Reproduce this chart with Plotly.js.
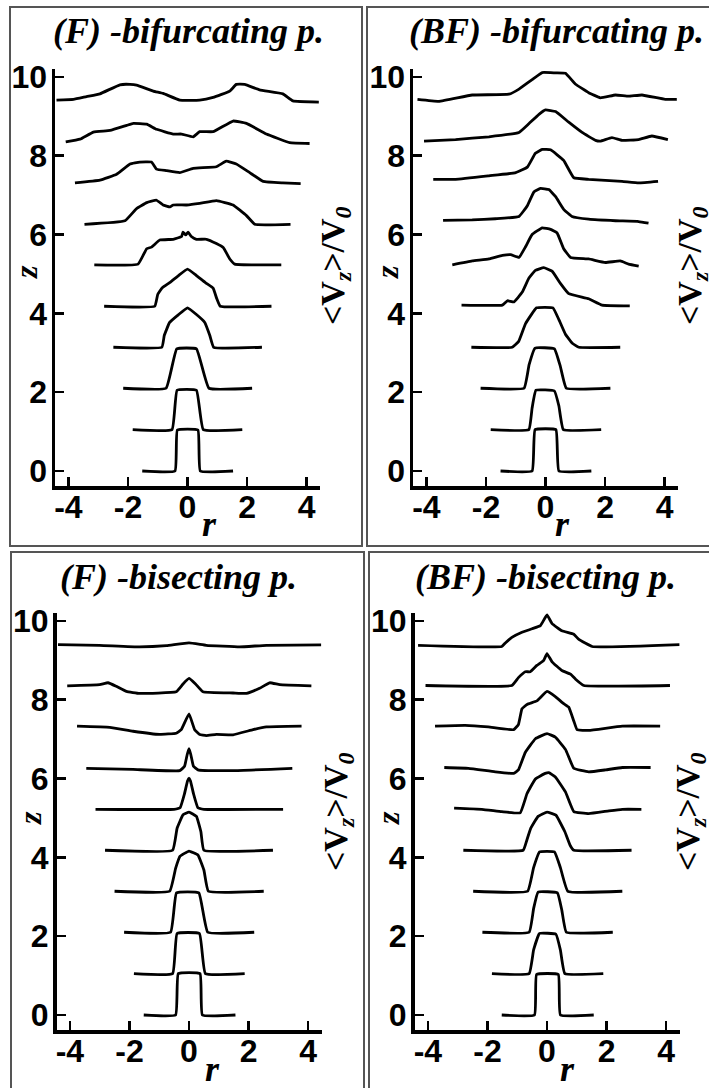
<!DOCTYPE html>
<html><head><meta charset="utf-8">
<script src="https://cdn.plot.ly/plotly-3.0.1.min.js"></script>
<style>html,body{margin:0;padding:0;background:#fff}#chart{width:709px;height:1088px}</style>
</head><body><div id="chart"></div>
<script>
// ---------- data ----------
const zBase = [0, 1.05, 2.1, 3.14, 4.18, 5.22, 6.26, 7.31, 8.35, 9.39];
const rTicks = [-4, -2, 0, 2, 4];
const zTicks = [0, 2, 4, 6, 8, 10];
const panelTitles = ["(F) -bifurcating p.", "(BF) -bifurcating p.", "(F) -bisecting p.", "(BF) -bisecting p."];

// (F) bifurcating
const fBifR = [
 [-1.52,-0.42,-0.34,0.35,0.43,1.53],
 [-1.84,-0.52,-0.35,0.3,0.53,1.84],
 [-2.16,-0.72,-0.36,0.3,0.72,2.17],
 [-2.49,-0.86,-0.78,-0.6,-0.3,0,0.3,0.58,0.75,0.88,2.5],
 [-2.8,-1.1,-1.0,-0.85,-0.6,-0.3,0,0.3,0.6,0.86,0.98,1.1,2.82],
 [-3.13,-1.66,-1.37,-1.21,-0.93,-0.48,-0.2,-0.15,-0.06,0.02,0.13,0.3,0.64,0.97,1.2,1.42,1.59,3.15],
 [-3.46,-2.1,-1.71,-1.37,-1.04,-0.82,-0.59,-0.48,-0.03,0.41,0.97,1.53,1.98,2.26,3.46],
 [-3.78,-2.94,-2.38,-1.93,-1.6,-1.21,-1.04,-0.7,-0.26,0.19,0.97,1.3,1.64,2.09,2.54,3.2,3.8],
 [-4.09,-3.61,-3.16,-2.6,-2.04,-1.82,-1.37,-1.04,-0.48,-0.2,0.19,0.41,0.86,1.53,1.98,2.65,3.43,4.1],
 [-4.4,-3.83,-3.39,-2.94,-2.27,-1.93,-1.71,-1.15,-0.82,-0.26,0.41,0.86,1.42,1.64,1.92,2.42,3.2,3.54,4.41]
];
const fBifV = [
 [0,0,1.04,1.04,0,0],
 [0,0,1.0,1.0,0,0],
 [0,0,1.0,1.0,0,0],
 [0,0,0.3,0.63,0.83,1.0,0.83,0.63,0.3,0,0],
 [0,0,0.3,0.47,0.6,0.78,0.94,0.78,0.6,0.46,0.2,0,0],
 [0.01,0.03,0.42,0.46,0.64,0.66,0.73,0.84,0.77,0.84,0.73,0.66,0.66,0.55,0.45,0.16,0.03,0.01],
 [0,0.09,0.4,0.55,0.61,0.49,0.44,0.49,0.49,0.53,0.6,0.49,0.22,0,0],
 [0,0.07,0.22,0.48,0.53,0.53,0.35,0.31,0.26,0.37,0.41,0.55,0.48,0.26,0.04,0,-0.02],
 [0,0.07,0.25,0.29,0.42,0.47,0.45,0.32,0.2,0.2,0.13,0.26,0.26,0.53,0.47,0.2,-0.02,-0.04],
 [0.02,0.04,0.11,0.18,0.41,0.42,0.4,0.25,0.19,0.02,0.02,0.09,0.25,0.42,0.42,0.28,0.18,0,-0.03]
];

// (BF) bifurcating
const bBifR = [
 [-1.51,-0.45,-0.35,0.35,0.45,1.54],
 [-1.84,-0.56,-0.45,-0.32,0.3,0.45,0.6,1.87],
 [-2.18,-0.72,-0.55,-0.35,0.3,0.5,0.7,2.18],
 [-2.49,-1.12,-0.9,-0.67,-0.3,0.25,0.45,0.67,0.9,1.12,2.51],
 [-2.82,-1.45,-1.28,-1.06,-0.78,-0.56,-0.34,-0.06,0.22,0.5,0.78,1.45,1.9,2.83],
 [-3.13,-2.46,-1.9,-1.45,-1.17,-0.89,-0.67,-0.45,-0.11,0.17,0.39,0.61,0.84,1.45,2.01,2.51,2.79,3.13],
 [-3.44,-2.46,-1.68,-0.89,-0.61,-0.39,-0.17,0.11,0.34,0.61,0.89,1.45,2.35,3.13,3.46],
 [-3.77,-3.02,-1.9,-1.0,-0.61,-0.34,-0.11,0.17,0.61,0.95,1.45,2.57,3.13,3.78],
 [-4.08,-3.02,-1.9,-0.89,-0.56,-0.22,0,0.34,0.78,1.23,1.68,1.84,2.23,2.57,3.13,3.57,4.11],
 [-4.3,-3.58,-2.46,-1.23,-0.89,-0.45,-0.11,0.34,0.67,1.0,1.45,1.84,2.35,2.79,3.24,4.02,4.41]
];
const bBifV = [
 [0,0,1.05,1.05,0,0],
 [0,0,0.55,1.0,0.98,0.6,0,0],
 [0,0,0.6,1.02,1.0,0.55,0,0],
 [0,0,0.15,0.6,1.0,1.0,0.7,0.33,0.1,0,0],
 [0.03,0.03,0.14,0.11,0.36,0.71,0.91,0.98,0.89,0.58,0.32,0.19,0.03,0.01],
 [0.01,0.11,0.16,0.25,0.27,0.2,0.47,0.78,0.95,0.91,0.82,0.42,0.2,0.16,0.07,0.11,0.03,-0.02],
 [0.1,0.11,0.14,0.2,0.47,0.82,0.91,0.88,0.7,0.38,0.2,0.13,0.09,0.07,0.03],
 [0.09,0.09,0.18,0.26,0.4,0.75,0.85,0.84,0.57,0.13,0.09,0.04,0,0.04],
 [0.02,0.06,0.13,0.24,0.46,0.7,0.81,0.77,0.5,0.24,0.04,0.02,0.11,0.04,0.06,0.15,0.06],
 [0.04,-0.01,0.15,0.17,0.3,0.54,0.72,0.71,0.7,0.43,0.21,0.08,0.15,0.12,0.15,0.04,0.04]
];

// (F) bisecting
const fBisR = [
 [-1.52,-0.45,-0.36,0.37,0.45,1.56],
 [-1.85,-0.55,-0.4,0.35,0.55,1.87],
 [-2.18,-0.62,-0.42,0.33,0.63,2.19],
 [-2.5,-0.65,-0.45,-0.3,0,0.3,0.5,0.65,2.51],
 [-2.82,-0.55,-0.4,-0.2,0,0.25,0.4,0.5,2.82],
 [-3.14,-0.5,-0.3,-0.15,-0.05,0,0.05,0.15,0.3,0.5,3.16],
 [-3.45,-1.88,-0.31,-0.15,-0.06,0,0.06,0.15,0.3,1.48,3.47],
 [-3.76,-2.66,-1.88,-0.99,-0.43,-0.26,0,0.19,0.36,0.58,0.92,1.48,2.15,2.6,3.78],
 [-4.09,-3.0,-2.72,-2.44,-2.1,-1.66,-0.43,-0.2,0,0.22,0.47,1.48,1.93,2.37,2.71,3.05,4.11],
 [-4.4,-3.0,-1.66,-0.76,0,0.58,1.7,2.6,4.44]
];
const fBisV = [
 [0,0,1.05,1.05,0,0],
 [0,0,1.02,1.02,0,0],
 [0,0,1.0,1.0,0,0],
 [0,0,0.58,0.89,1.02,0.92,0.54,0,0],
 [0,0,0.56,0.9,0.97,0.86,0.47,0,0],
 [0,0,0.04,0.4,0.72,0.79,0.72,0.4,0.04,0,0],
 [0,-0.03,-0.06,0.05,0.35,0.5,0.35,0.05,-0.04,-0.06,0],
 [0.02,-0.01,-0.11,-0.19,-0.16,-0.07,0.33,-0.07,-0.19,-0.22,-0.19,-0.2,-0.07,0,0.02],
 [0,0.03,0.08,-0.01,-0.14,-0.19,-0.15,0.05,0.19,0.05,-0.15,-0.18,-0.19,-0.06,0.08,0.03,0],
 [0.01,-0.01,-0.05,-0.02,0.05,-0.01,-0.05,-0.01,0]
];

// (BF) bisecting
const bBisR = [
 [-1.52,-0.42,-0.35,0.38,0.45,1.57],
 [-1.85,-0.6,-0.45,-0.25,0.3,0.45,0.6,1.89],
 [-2.17,-0.6,-0.45,-0.3,0.35,0.5,0.65,2.21],
 [-2.48,-0.65,-0.45,-0.25,0.25,0.45,0.7,2.53],
 [-2.81,-0.8,-0.68,-0.55,-0.3,0,0.3,0.6,0.78,0.9,2.84],
 [-3.12,-2.19,-1.52,-0.9,-0.67,-0.39,-0.06,0.06,0.28,0.62,0.9,1.4,2.08,2.53,3.17],
 [-3.45,-2.64,-1.74,-1.12,-0.96,-0.73,-0.39,0,0.28,0.62,0.9,1.4,1.97,2.53,3.48],
 [-3.76,-2.75,-1.97,-1.12,-0.96,-0.84,-0.67,-0.34,0,0.28,0.56,0.73,0.9,1.01,1.4,2.53,3.8],
 [-4.08,-1.18,-0.96,-0.73,-0.56,-0.34,-0.11,0,0.17,0.5,0.79,0.96,1.24,4.13],
 [-4.33,-1.52,-1.4,-1.18,-0.84,-0.5,-0.22,0,0.17,0.5,0.9,1.07,1.52,4.46]
];
const bBisV = [
 [0,0,1.03,1.03,0,0],
 [0,0,0.6,1.02,1.0,0.6,0,0],
 [0,0,0.6,1.02,1.0,0.55,0,0],
 [0,0,0.6,1.0,1.0,0.6,0,0],
 [0,0,0.25,0.55,0.86,0.97,0.89,0.47,0.12,0,0],
 [0.03,0,-0.06,-0.09,0.4,0.77,0.91,0.93,0.82,0.44,-0.06,-0.11,-0.04,0,0],
 [0.02,0,-0.09,-0.13,-0.04,0.4,0.75,0.88,0.79,0.48,0,-0.09,-0.04,0.02,0.02],
 [0.02,0.04,0,-0.07,0.06,0.46,0.57,0.66,0.9,0.77,0.59,0.5,0.15,-0.07,-0.09,0.02,0.02],
 [0.01,0.01,0.21,0.36,0.36,0.52,0.65,0.82,0.61,0.39,0.3,0.17,0.01,0.01],
 [-0.01,-0.04,0.05,0.19,0.32,0.41,0.49,0.76,0.54,0.36,0.27,0.14,-0.04,0.01]
];

// ---------- layout (pixel geometry) ----------
const W = 709, H = 1088;
const px = x => x / W, py = y => 1 - y / H;
const panels = [
 {R: fBifR, V: fBifV, xd: [55, 320],     yd: [69, 486],  box: [10, 7, 362, 546],    tt: [189, 31],  zl: [26, 272],  rl: [209, 524],  vl: [335, 266]},
 {R: bBifR, V: bBifV, xd: [413, 678],    yd: [69, 486],  box: [367, 7, 715, 546],   tt: [556, 31],  zl: [387, 272], rl: [562, 524],  vl: [692, 266]},
 {R: fBisR, V: fBisV, xd: [56.5, 321.5], yd: [613, 1030], box: [11, 552, 364, 1095], tt: [178, 577], zl: [30, 818],  rl: [213, 1069], vl: [338, 812]},
 {R: bBisR, V: bBisV, xd: [414.5, 679.5], yd: [613, 1030], box: [369, 552, 715, 1095], tt: [545, 577], zl: [388, 818], rl: [567, 1069], vl: [690, 812]}
];

const traces = [];
const layout = {
  width: W, height: H, margin: {l: 0, r: 0, t: 0, b: 0},
  paper_bgcolor: '#fff', plot_bgcolor: 'rgba(0,0,0,0)',
  showlegend: false, annotations: [], shapes: []
};
const tickFont = {family: 'Liberation Sans, Arial, sans-serif', size: 32, color: '#000', weight: 'bold'};
const serif = 'Liberation Serif, Times New Roman, serif';

panels.forEach((p, k) => {
  const sfx = k === 0 ? '' : String(k + 1);
  p.R.forEach((r, i) => {
    traces.push({
      x: r, y: p.V[i].map(v => zBase[i] + v),
      xaxis: 'x' + sfx, yaxis: 'y' + sfx,
      mode: 'lines', line: {color: '#000', width: 2.8, shape: 'spline', smoothing: 0.3},
      hoverinfo: 'skip'
    });
  });
  layout['xaxis' + sfx] = {
    domain: [px(p.xd[0]), px(p.xd[1])], anchor: 'y' + sfx, range: [-4.45, 4.45],
    tickvals: rTicks, ticktext: rTicks.map(String), ticks: 'inside', ticklen: 9, tickwidth: 2.5,
    tickcolor: '#000', showline: true, linewidth: 3.5, linecolor: '#000',
    showgrid: false, zeroline: false, tickfont: tickFont, fixedrange: true,
    ticklabelstandoff: -10
  };
  layout['yaxis' + sfx] = {
    domain: [py(p.yd[1]), py(p.yd[0])], anchor: 'x' + sfx, range: [-0.38, 10.2],
    tickvals: zTicks, ticktext: zTicks.map(String), ticks: 'inside', ticklen: 9, tickwidth: 2.5,
    tickcolor: '#000', showline: true, linewidth: 3.5, linecolor: '#000',
    showgrid: false, zeroline: false, tickfont: tickFont, fixedrange: true,
    ticklabelstandoff: -2
  };
  layout.shapes.push({type: 'rect', xref: 'paper', yref: 'paper',
    x0: px(p.box[0]), x1: px(p.box[2]), y0: py(p.box[3]), y1: py(p.box[1]),
    line: {color: '#555', width: 2}, fillcolor: 'rgba(0,0,0,0)'});
  layout.annotations.push(
    {xref: 'paper', yref: 'paper', x: px(p.tt[0]), y: py(p.tt[1]), xanchor: 'center', yanchor: 'middle',
     text: panelTitles[k], showarrow: false,
     font: {family: serif, size: 36, color: '#000', weight: 'bold', style: 'italic'}},
    {xref: 'paper', yref: 'paper', x: px(p.zl[0]), y: py(p.zl[1]), xanchor: 'center', yanchor: 'middle',
     text: 'z', textangle: -90, showarrow: false,
     font: {family: serif, size: 32, color: '#000', weight: 'bold', style: 'italic'}},
    {xref: 'paper', yref: 'paper', x: px(p.rl[0]), y: py(p.rl[1]), xanchor: 'center', yanchor: 'middle',
     text: 'r', showarrow: false,
     font: {family: serif, size: 36, color: '#000', weight: 'bold', style: 'italic'}},
    {xref: 'paper', yref: 'paper', x: px(p.vl[0]), y: py(p.vl[1]), xanchor: 'center', yanchor: 'middle',
     text: '<b>&lt;V<sub><i>z</i></sub>&gt;/V<sub><i>0</i></sub></b>', textangle: -90, showarrow: false,
     font: {family: serif, size: 34, color: '#000'}}
  );
});

Plotly.newPlot('chart', traces, layout, {staticPlot: true, displayModeBar: false});
</script>
</body></html>
